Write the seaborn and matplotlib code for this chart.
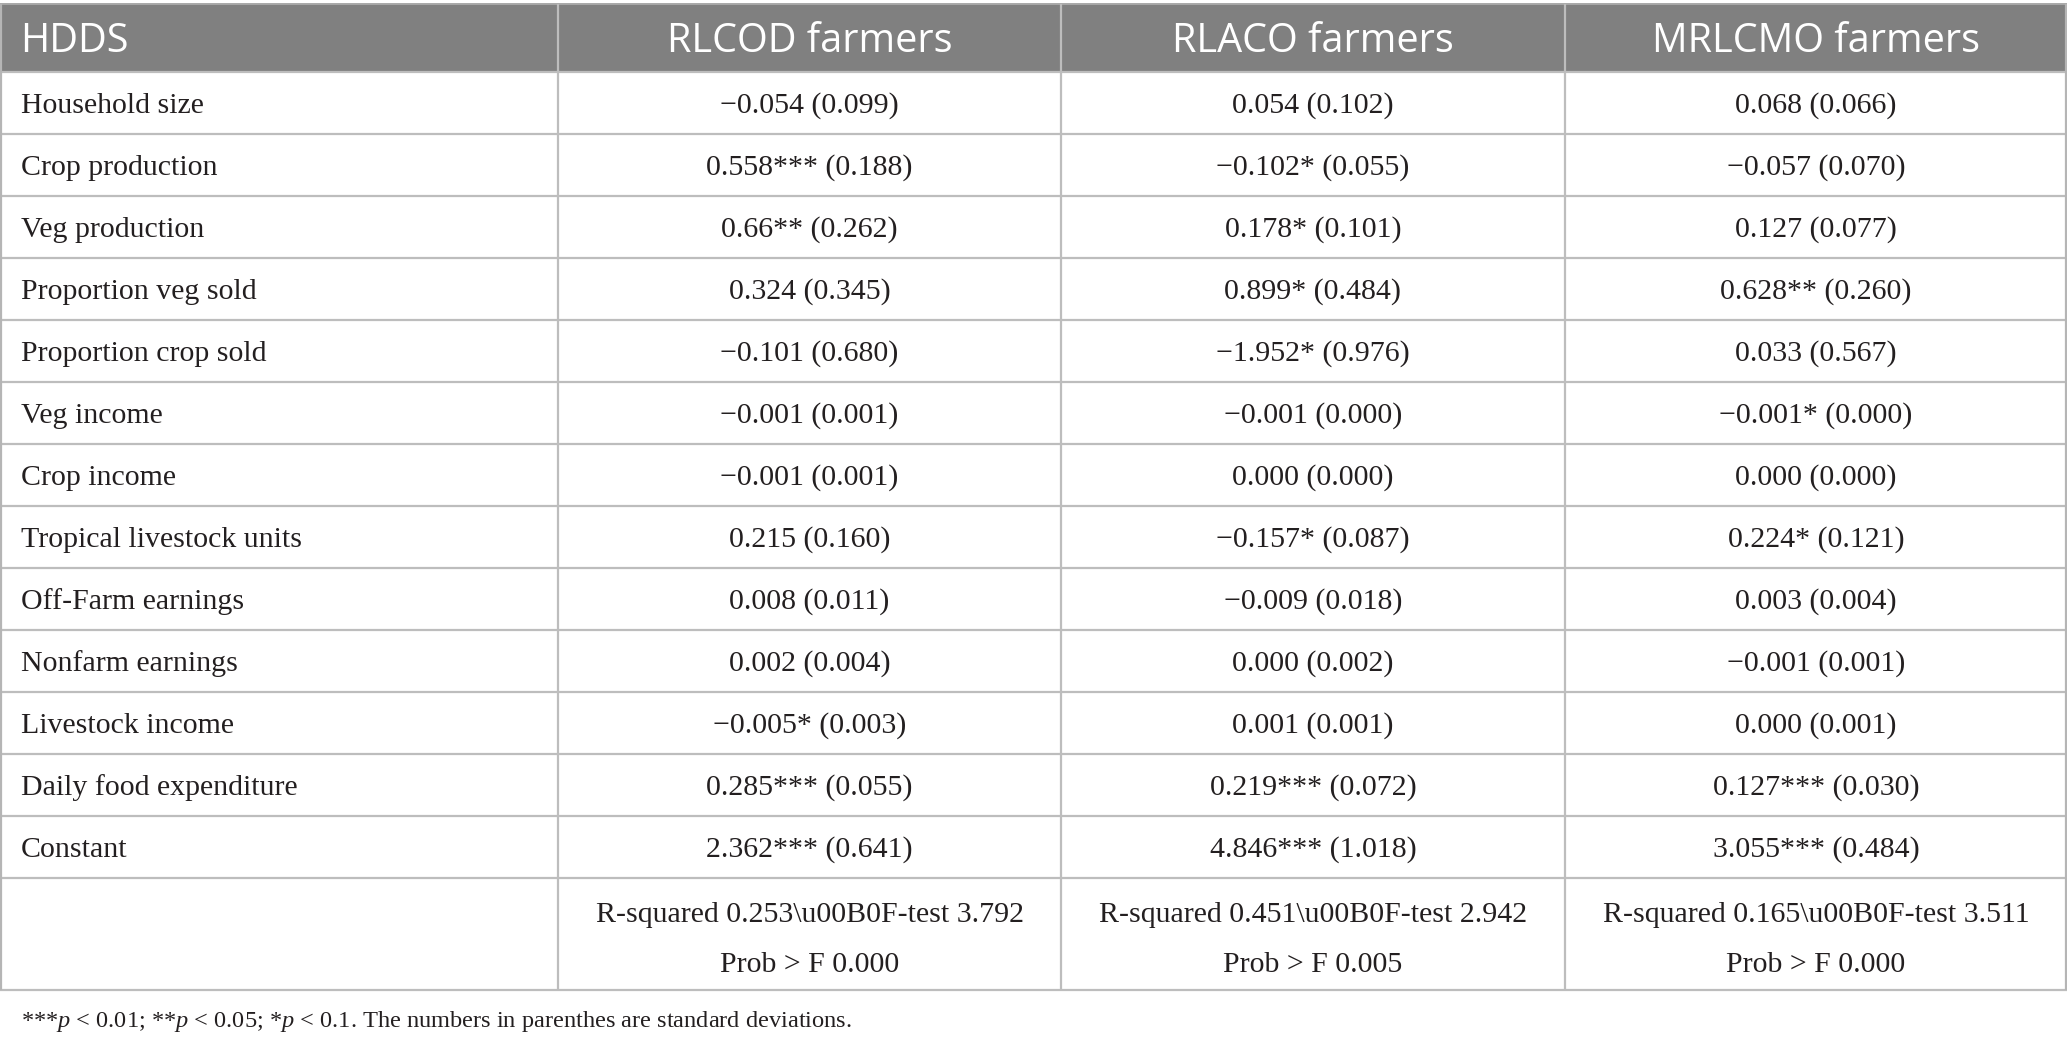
import seaborn as sns
import matplotlib.pyplot as plt
from matplotlib.patches import Rectangle

# table content
col_headers = ["HDDS", "RLCOD farmers", "RLACO farmers", "MRLCMO farmers"]
row_labels = ["Household size", "Crop production", "Veg production", "Proportion veg sold",
              "Proportion crop sold", "Veg income", "Crop income", "Tropical livestock units",
              "Off-Farm earnings", "Nonfarm earnings", "Livestock income",
              "Daily food expenditure", "Constant"]
rlcod = ["\u22120.054 (0.099)", "0.558*** (0.188)", "0.66** (0.262)", "0.324 (0.345)",
         "\u22120.101 (0.680)", "\u22120.001 (0.001)", "\u22120.001 (0.001)", "0.215 (0.160)",
         "0.008 (0.011)", "0.002 (0.004)", "\u22120.005* (0.003)", "0.285*** (0.055)",
         "2.362*** (0.641)"]
rlaco = ["0.054 (0.102)", "\u22120.102* (0.055)", "0.178* (0.101)", "0.899* (0.484)",
         "\u22121.952* (0.976)", "\u22120.001 (0.000)", "0.000 (0.000)", "\u22120.157* (0.087)",
         "\u22120.009 (0.018)", "0.000 (0.002)", "0.001 (0.001)", "0.219*** (0.072)",
         "4.846*** (1.018)"]
mrlcmo = ["0.068 (0.066)", "\u22120.057 (0.070)", "0.127 (0.077)", "0.628** (0.260)",
          "0.033 (0.567)", "\u22120.001* (0.000)", "0.000 (0.000)", "0.224* (0.121)",
          "0.003 (0.004)", "\u22120.001 (0.001)", "0.000 (0.001)", "0.127*** (0.030)",
          "3.055*** (0.484)"]
fit_line1 = ["R-squared 0.253\\u00B0F-test 3.792", "R-squared 0.451\\u00B0F-test 2.942",
             "R-squared 0.165\\u00B0F-test 3.511"]
fit_line2 = ["Prob > F 0.000", "Prob > F 0.005", "Prob > F 0.000"]
footnote = ("***$p$ < 0.01; **$p$ < 0.05; *$p$ < 0.1. "
            "The numbers in parenthes are standard deviations.")

sns.set_theme(style="white")
plt.rcParams["mathtext.fontset"] = "custom"
plt.rcParams["mathtext.rm"] = "Liberation Serif"
plt.rcParams["mathtext.it"] = "Liberation Serif:italic"

W, H = 2067, 1045
fig = plt.figure(figsize=(W / 100, H / 100), dpi=100)
ax = fig.add_axes([0, 0, 1, 1])
ax.set_xlim(0, W)
ax.set_ylim(H, 0)
ax.axis("off")

col_edges = [0, 558, 1061, 1565, W]
head_top, head_bot = 4, 72
row_h = 62
row_edges = [head_bot + row_h * i for i in range(len(row_labels) + 1)]
table_bot = 990

grid_c = "#bdbdbd"
head_c = "#808080"
text_c = "#231f20"
serif = "Liberation Serif"
body_fs = 21.5
dy = 3  # nudge text down to sit visually centred

# header band
ax.add_patch(Rectangle((0, head_top), W, head_bot - head_top, color=head_c, lw=0))

# grid lines
for y in row_edges + [table_bot]:
    ax.plot([0, W], [y, y], color=grid_c, lw=1.6, solid_capstyle="butt")
ax.plot([0, W], [head_top, head_top], color="#a8a8a8", lw=1.4)
for x in col_edges:
    xx = min(max(x, 1), W - 1)
    ax.plot([xx, xx], [head_top, table_bot], color=grid_c if x not in (0, W) else "#b5b5b5",
            lw=1.6, solid_capstyle="butt")

# header text
hy = (head_top + head_bot) / 2 + 4
ax.text(20, hy, col_headers[0], ha="left", va="center", color="white",
        fontsize=28.5, family="Open Sans")
for j in range(1, 4):
    cx = (col_edges[j] + col_edges[j + 1]) / 2
    ax.text(cx, hy, col_headers[j], ha="center", va="center", color="white",
            fontsize=28.5, family="Open Sans")

# body rows
columns = [rlcod, rlaco, mrlcmo]
for i, label in enumerate(row_labels):
    cy = (row_edges[i] + row_edges[i + 1]) / 2 + dy
    ax.text(21, cy, label, ha="left", va="center", color=text_c, fontsize=body_fs, family=serif)
    for j, col in enumerate(columns):
        cx = (col_edges[j + 1] + col_edges[j + 2]) / 2
        ax.text(cx, cy, col[i], ha="center", va="center", color=text_c,
                fontsize=body_fs, family=serif)

# fit statistics row
for j in range(3):
    cx = (col_edges[j + 1] + col_edges[j + 2]) / 2
    ax.text(cx, 912 + dy, fit_line1[j], ha="center", va="center", color=text_c,
            fontsize=body_fs, family=serif)
    ax.text(cx, 962 + dy, fit_line2[j], ha="center", va="center", color=text_c,
            fontsize=body_fs, family=serif)

ax.text(21, 1022, footnote, ha="left", va="center", color=text_c, fontsize=17.6, family=serif)

fig.savefig("out.png", dpi=100, facecolor="white")
